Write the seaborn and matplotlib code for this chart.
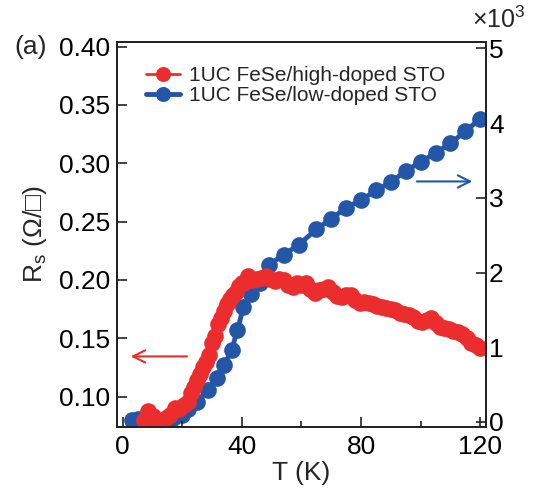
import pandas as pd
import matplotlib
matplotlib.use('Agg')
import matplotlib.pyplot as plt
import seaborn as sns

# high-doped STO (left axis, Rs in ohm/sq)
t_high = [7, 8.5, 10, 11.5, 13, 14.5, 16, 17.5, 19, 20.5, 22, 23, 24, 25, 26, 27, 28, 29,
          30, 31, 32, 33, 34, 35, 36, 37, 38, 39, 40, 41, 42, 43.5, 45, 46.5, 48, 49.5,
          51, 52.5, 54, 55.5, 57, 58.5, 60, 61.5, 63, 64.5, 66, 67.5, 69, 70.5, 72, 73.5,
          75, 76.5, 78, 79.5, 81, 82.5, 84, 85.5, 87, 88.5, 90, 91.5, 93, 94.5, 96, 97.5,
          99, 100.5, 102, 103.5, 105, 106.5, 108, 109.5, 111, 112.5, 114, 115.5, 117,
          118.5, 120]
r_high = [0.080, 0.088, 0.083, 0.079, 0.079, 0.082, 0.084, 0.090, 0.089, 0.093, 0.095,
          0.103, 0.108, 0.114, 0.119, 0.125, 0.130, 0.136, 0.146, 0.152, 0.162, 0.167,
          0.173, 0.179, 0.184, 0.187, 0.190, 0.195, 0.197, 0.198, 0.203, 0.200, 0.201,
          0.202, 0.203, 0.201, 0.199, 0.201, 0.200, 0.196, 0.194, 0.197, 0.196, 0.197,
          0.192, 0.189, 0.191, 0.192, 0.194, 0.190, 0.186, 0.185, 0.187, 0.187, 0.183,
          0.180, 0.181, 0.180, 0.179, 0.178, 0.177, 0.176, 0.175, 0.174, 0.172, 0.171,
          0.170, 0.168, 0.165, 0.164, 0.166, 0.167, 0.163, 0.160, 0.159, 0.158, 0.156,
          0.155, 0.154, 0.150, 0.146, 0.144, 0.142]

# low-doped STO (right axis, x10^3)
t_low = [3, 5, 8, 11, 14, 17, 20, 22, 25, 28.5, 31.5, 34, 36.5, 38.5, 40.5, 43, 46, 49,
         54, 59, 65, 70, 75, 80, 85, 90, 95, 100, 105, 110, 115, 120]
r_low = [0.03, 0.04, 0.02, 0.01, 0.02, 0.05, 0.10, 0.17, 0.27, 0.43, 0.59, 0.76, 0.96,
         1.23, 1.54, 1.72, 1.86, 2.10, 2.24, 2.37, 2.58, 2.72, 2.87, 2.97, 3.10, 3.21,
         3.36, 3.48, 3.60, 3.73, 3.89, 4.06]

red = '#ec2d2d'
blue = '#2356a6'

high_df = pd.DataFrame({'T': t_high, 'R': r_high})
low_df = pd.DataFrame({'T': t_low, 'R': r_low})

sns.set_style('ticks')
plt.rcParams['font.family'] = ['Liberation Sans', 'DejaVu Sans']
plt.rcParams['mathtext.fontset'] = 'custom'
plt.rcParams['mathtext.rm'] = 'Liberation Sans'

fig = plt.figure(figsize=(5.36, 4.88), dpi=100)
ax = fig.add_axes([0.218, 0.125, 0.689, 0.789])
ax2 = ax.twinx()

sns.lineplot(data=high_df, x='T', y='R', ax=ax, color=red, marker='o', markersize=12,
             markeredgewidth=0, linewidth=2, label='1UC FeSe/high-doped STO')
sns.lineplot(data=low_df, x='T', y='R', ax=ax2, color=blue, marker='o', markersize=12,
             markeredgewidth=0, linewidth=3.5, label='1UC FeSe/low-doped STO')

# red on top of blue
ax.set_zorder(ax2.get_zorder() + 1)
ax.patch.set_visible(False)

ax.set_xlim(-2, 122)
ax.set_ylim(0.074, 0.404)
ax2.set_ylim(-0.067, 5.087)

ax.set_xticks([0, 40, 80, 120])
ax.set_xticks([20, 60, 100], minor=True)
ax.set_yticks([0.10, 0.15, 0.20, 0.25, 0.30, 0.35, 0.40])
ax.set_yticklabels(['0.10', '0.15', '0.20', '0.25', '0.30', '0.35', '0.40'])
ax2.set_yticks([0, 1, 2, 3, 4, 5])
ax2.set_yticklabels(['0', '1', '2', '3', '4', '5'])

ax.tick_params(axis='both', which='major', direction='in', length=7, width=1.2,
               labelsize=19, colors='#222222', labelcolor='black')
ax.tick_params(axis='x', which='major', pad=6)
ax.tick_params(axis='y', which='major', pad=5)
ax.tick_params(axis='x', which='minor', direction='in', length=4.5, width=1.2, colors='#222222')
ax2.tick_params(axis='y', direction='in', length=7, width=1.2, labelsize=19, pad=2,
                colors='#222222', labelcolor='black')

for a in (ax, ax2):
    for s in a.spines.values():
        s.set_linewidth(1.3)
        s.set_color('#222222')

ax.set_xlabel('T (K)', fontsize=19, labelpad=1)
ax.set_ylabel('R$_\\mathregular{s}$ (Ω/□)', fontsize=19, labelpad=7)
ax2.set_ylabel('')

h1, l1 = ax.get_legend_handles_labels()
h2, l2 = ax2.get_legend_handles_labels()
if ax2.get_legend():
    ax2.get_legend().remove()
ax.legend(h1 + h2, l1 + l2, loc='upper left', bbox_to_anchor=(0.04, 0.975), frameon=False,
          fontsize=15, handlelength=1.6, handletextpad=0.45, labelspacing=0.05,
          borderaxespad=0.3, markerscale=0.9)

ax.annotate('', xy=(1.7, 0.1345), xytext=(22.5, 0.1345),
            arrowprops=dict(arrowstyle='->', color=red, lw=1.5, mutation_scale=22))
ax2.annotate('', xy=(118.3, 3.22), xytext=(97.8, 3.22),
             arrowprops=dict(arrowstyle='->', color=blue, lw=1.5, mutation_scale=22))

fig.text(0.026, 0.89, '(a)', fontsize=19)
fig.text(0.88, 0.942, '×10$^\\mathregular{3}$', fontsize=18)

fig.savefig('out.png', dpi=100)
